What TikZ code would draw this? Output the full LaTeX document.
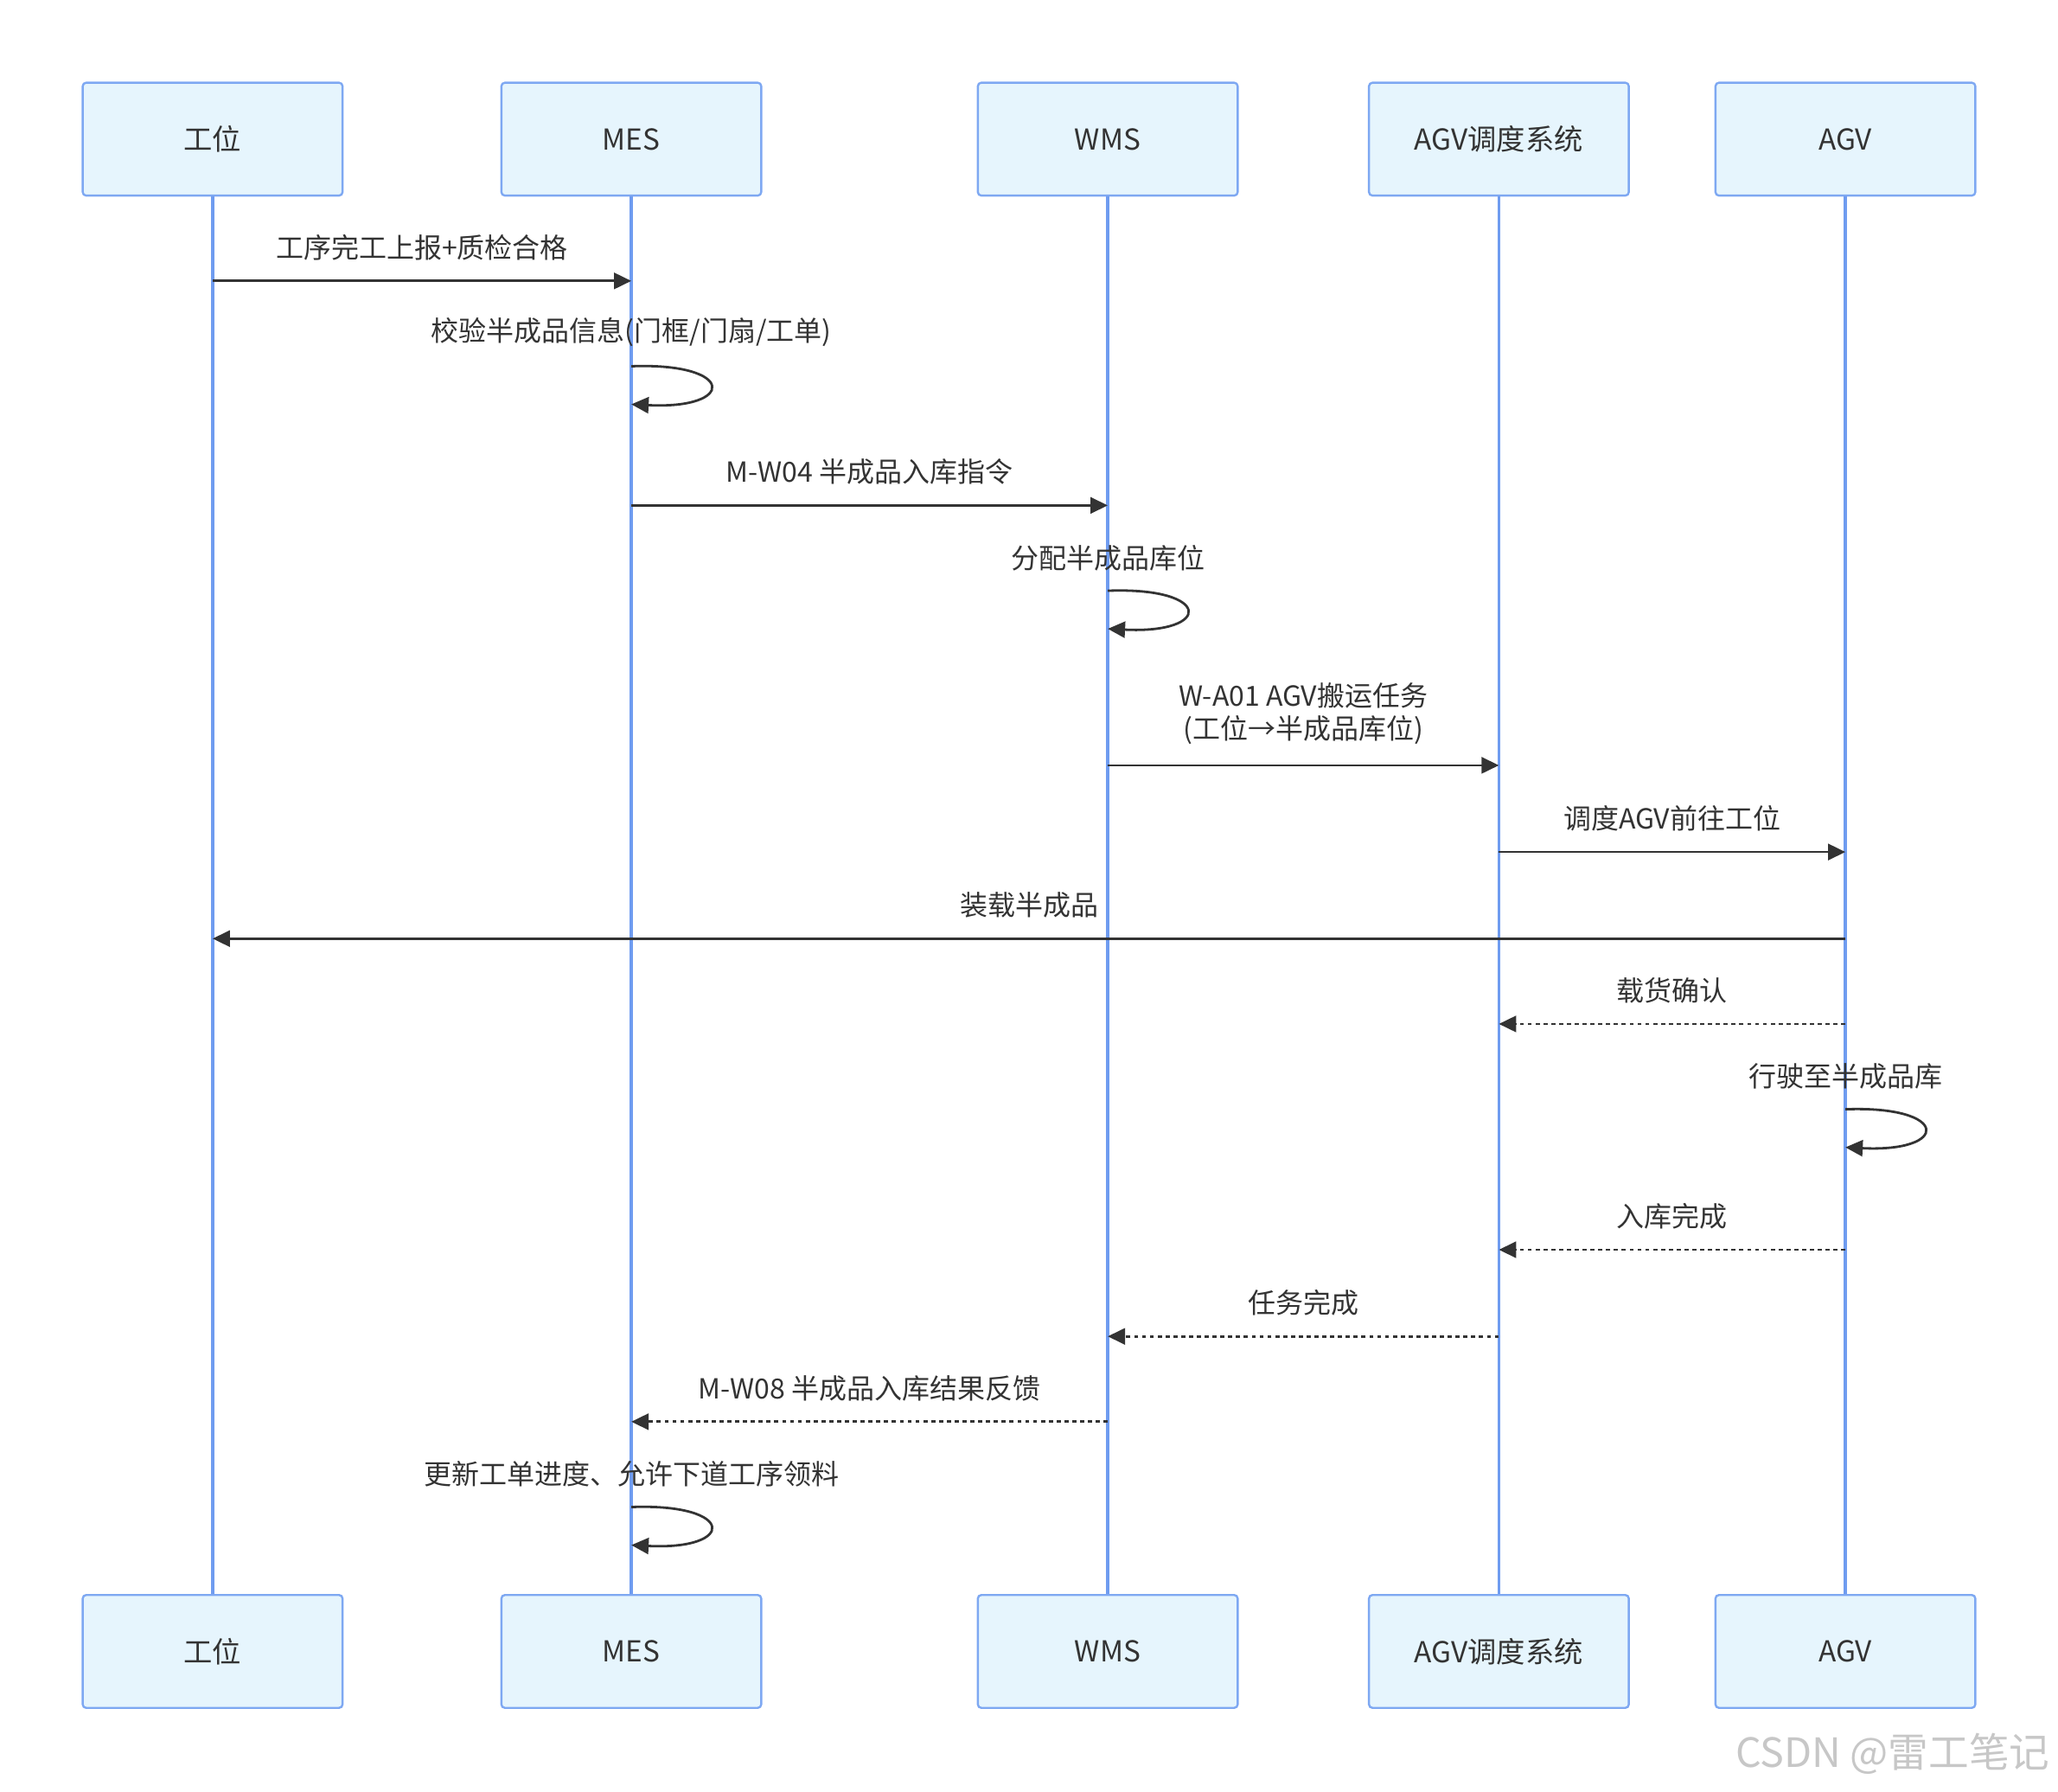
\documentclass[tikz,border=0pt]{standalone}
\usepackage{fontspec}
\setmainfont{Noto Sans CJK SC}
\usetikzlibrary{arrows.meta,positioning}
\definecolor{boxfill}{HTML}{E6F5FD}
\definecolor{boxline}{HTML}{7EA8F2}
\definecolor{lifeblue}{HTML}{6F9CF0}
\definecolor{ink}{HTML}{333333}
\tikzset{
  actor/.style={draw=boxline, fill=boxfill, line width=0.9pt, rounded corners=1.5pt,
    minimum width=3.96cm, minimum height=1.72cm, font=\fontsize{12.5}{15}\selectfont, text=ink},
  life/.style={draw=lifeblue, line width=1.3pt},
  msg/.style={draw=ink, line width=1.05pt, -{Triangle[length=7.5pt,width=7pt]}},
  reply/.style={msg, dash pattern=on 1.8pt off 1.6pt},
  lbl/.style={font=\fontsize{12}{14.2}\selectfont, text=ink, align=center, above, yshift=0.18cm},
}

\begin{document}
\begin{tikzpicture}[x=0.02cm,y=-0.02cm]
  \useasboundingbox (0,0) rectangle (1568,1365);

  % Participants and lifelines
  \foreach \x/\n/\t in {162/ws/工位, 481/mes/MES, 844/wms/WMS, 1142/rcs/AGV调度系统, 1406/agv/AGV} {
    \node[actor] (top-\n) at (\x,106) {\t};
    \node[actor] (bot-\n) at (\x,1258) {\t};
    \draw[life] (top-\n) -- (bot-\n);
  }

  % Messages
  \foreach \i/\y/\a/\b/\s/\t in {
      1/214/ws/mes/msg/工序完工上报+质检合格,
      2/385/mes/wms/msg/M-W04 半成品入库指令,
      3/583/wms/rcs/msg/{W-A01 AGV搬运任务\\(工位→半成品库位)},
      4/649/rcs/agv/msg/调度AGV前往工位,
      5/715/agv/ws/msg/装载半成品,
      6/780/agv/rcs/reply/载货确认,
      7/952/agv/rcs/reply/入库完成,
      8/1018/rcs/wms/reply/任务完成,
      9/1083/wms/mes/reply/M-W08 半成品入库结果反馈} {
    \coordinate (m\i-a) at (top-\a |- 0,\y);
    \coordinate (m\i-b) at (top-\b |- 0,\y);
    \draw[\s] (m\i-a) -- node[lbl] {\t} (m\i-b);
  }

  % Self calls
  \foreach \i/\y/\n/\t in {
      1/279/mes/{校验半成品信息(门框/门扇/工单)},
      2/450/wms/分配半成品库位,
      3/845/agv/行驶至半成品库,
      4/1148/mes/{更新工单进度、允许下道工序领料}} {
    \coordinate (s\i-a) at (top-\n |- 0,\y);
    \coordinate (s\i-b) at (top-\n |- 0,\y+29);
    \draw[msg] (s\i-a) .. controls +(80,-3) and +(80,4) .. (s\i-b);
    \node[lbl] (s\i-lbl) at (s\i-a) {\t};
  }

  % Watermark
  \node[font=\fontsize{17.5}{20}\selectfont, text=black!22] (mark) at (1442,1336) {CSDN @雷工笔记};
\end{tikzpicture}
\end{document}
